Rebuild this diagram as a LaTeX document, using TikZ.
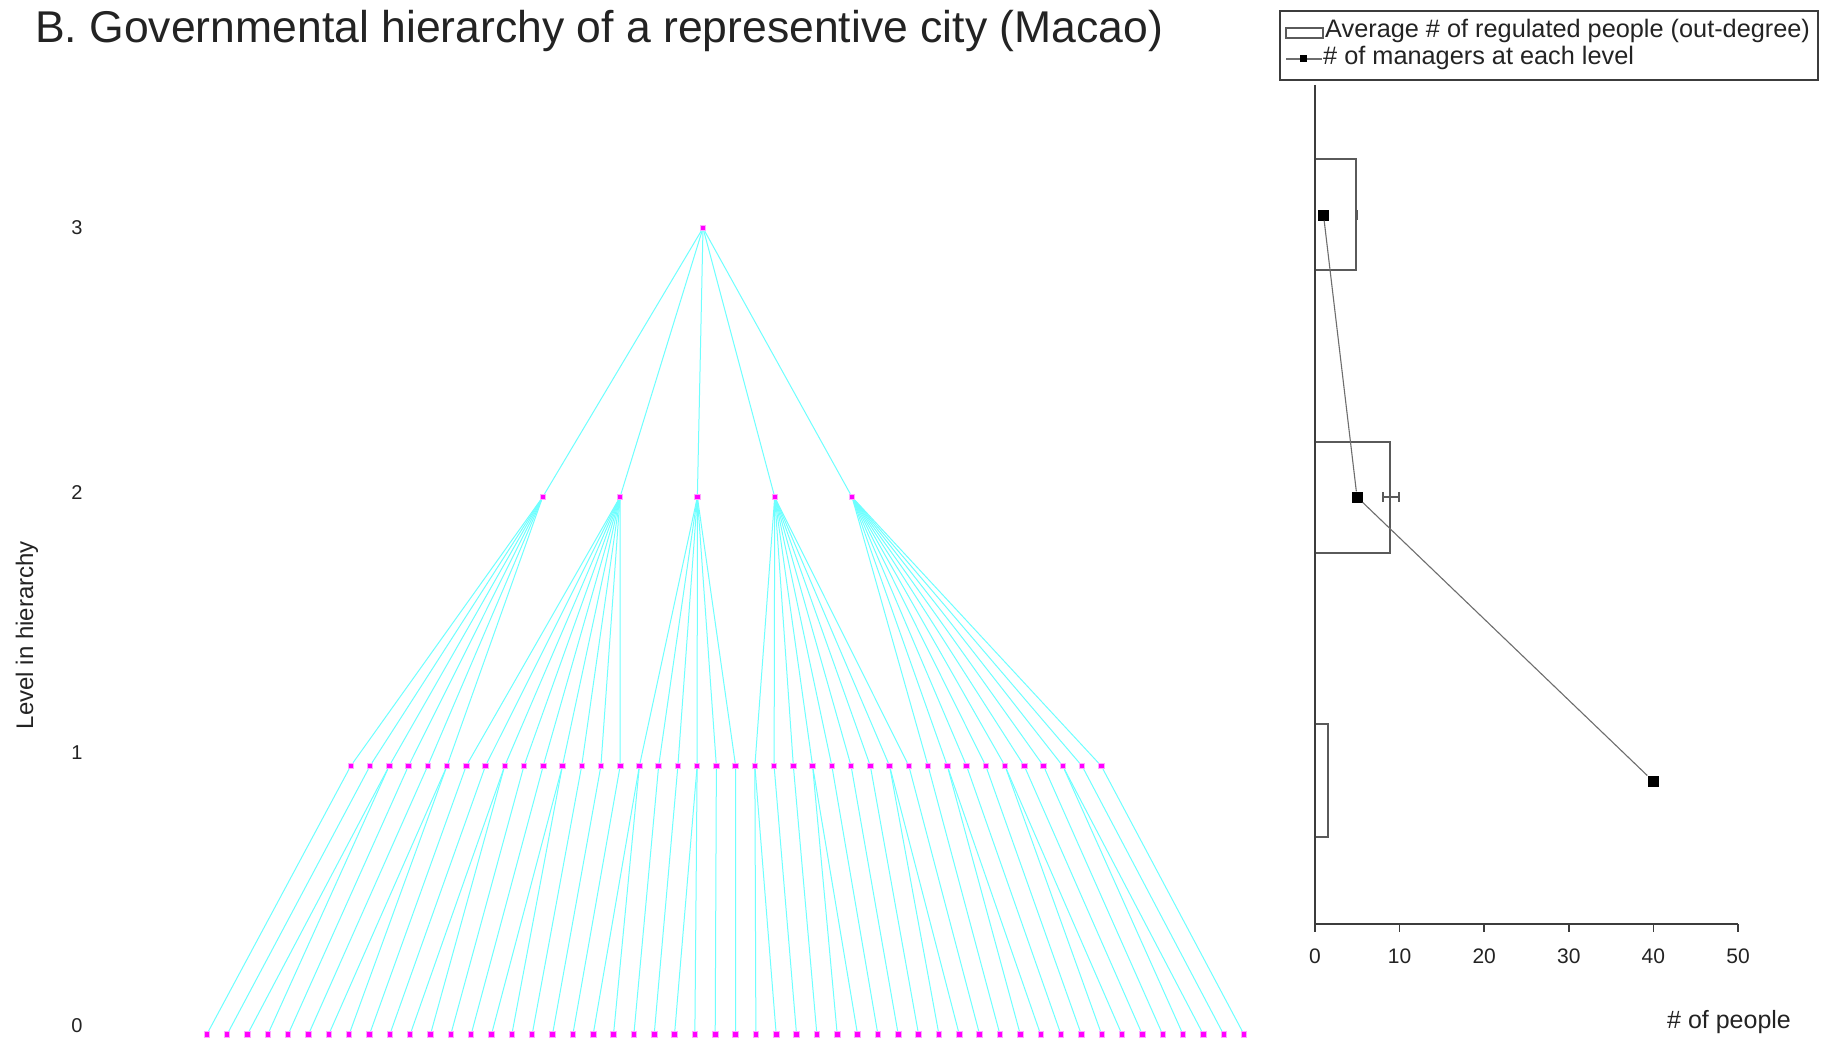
\documentclass[tikz,border=0pt]{standalone}
\usepackage{fontspec}
\setmainfont{Liberation Sans}
\usetikzlibrary{backgrounds}
\definecolor{edgec}{RGB}{110,255,255}
\definecolor{nodec}{RGB}{255,0,255}
\definecolor{axisc}{RGB}{60,60,60}
\definecolor{barc}{RGB}{90,90,90}
\definecolor{linec}{RGB}{110,110,110}
\definecolor{txtc}{RGB}{35,35,35}
\tikzset{
  mnode/.style={rectangle,fill=nodec,draw=nodec!35,line width=0.8pt,minimum size=5.5pt,inner sep=0pt},
  edgeline/.style={draw=edgec,line width=1pt},
  ptsq/.style={rectangle,fill=black,draw=none,minimum size=11pt,inner sep=0pt},
  barbox/.style={draw=barc,line width=1.4pt,fill=white},
  axisline/.style={draw=axisc,line width=1.5pt},
  conn/.style={draw=linec,line width=1.1pt},
  lvl/.style={inner sep=0pt,text=txtc,font=\fontsize{20}{24}\selectfont},
  ticklab/.style={inner sep=0pt,text=txtc,font=\fontsize{21}{25}\selectfont},
  legtxt/.style={inner sep=0pt,anchor=base west,text=txtc,font=\fontsize{25.3}{29}\selectfont},
}
\begin{document}
\begin{tikzpicture}[x=1pt,y=-1pt]
\useasboundingbox (0,0) rectangle (1828,1038);

% ---------- tree nodes ----------
\node[mnode] (t) at (703,228) {};
\foreach \k in {0,...,4} {
  \pgfmathsetmacro\xx{542.7+77.33*\k}
  \node[mnode] (m\k) at (\xx,497) {};
}
\foreach \i in {0,...,39} {
  \pgfmathsetmacro\xx{350.7+19.246*\i}
  \node[mnode] (a\i) at (\xx,766) {};
}
\foreach \j in {0,...,51} {
  \pgfmathsetmacro\xx{206.7+20.34*\j}
  \node[mnode] (b\j) at (\xx,1034.5) {};
}

% ---------- tree edges (behind nodes) ----------
\begin{pgfonlayer}{background}
\fill[white] (0,0) rectangle (1828,1038);
\foreach \k in {0,...,4} \draw[edgeline] (t) -- (m\k);
\foreach \i in {0,...,5}   \draw[edgeline] (m0) -- (a\i);
\foreach \i in {6,...,14}  \draw[edgeline] (m1) -- (a\i);
\foreach \i in {15,...,20} \draw[edgeline] (m2) -- (a\i);
\foreach \i in {21,...,29} \draw[edgeline] (m3) -- (a\i);
\foreach \i in {30,...,39} \draw[edgeline] (m4) -- (a\i);
\foreach \j in {0,...,51} {
  \pgfmathtruncatemacro\pp{round(\j*39/51)}
  \draw[edgeline] (a\pp) -- (b\j);
}
\end{pgfonlayer}

% ---------- title and left labels ----------
\node[anchor=base west,inner sep=0pt,text=txtc,font=\fontsize{44.5}{50}\selectfont] (title) at (35,43)
  {B. Governmental hierarchy of a representive city (Macao)};
\node[lvl] (l3) at (77,228) {3};
\node[lvl] (l2) at (77,493) {2};
\node[lvl] (l1) at (77,753) {1};
\node[lvl] (l0) at (77,1026) {0};
\node[inner sep=0pt,rotate=90,text=txtc,font=\fontsize{24}{28}\selectfont] (ylab) at (27,635) {Level in hierarchy};

% ---------- right chart ----------
\draw[barbox] (1315,159) rectangle (1356,270);
\draw[barbox] (1315,442) rectangle (1390,553);
\draw[barbox] (1315,724) rectangle (1328,837);
\draw[axisline] (1315,85) -- (1315,924) -- (1738,924);
\foreach \k in {0,...,5} {
  \pgfmathsetmacro\xx{1315+84.6*\k}
  \pgfmathtruncatemacro\lab{10*\k}
  \draw[axisline] (\xx,924) -- (\xx,932);
  \node[ticklab] (tk\k) at (\xx,956) {\lab};
}
\node[anchor=base west,inner sep=0pt,text=txtc,font=\fontsize{25}{30}\selectfont] (xlab) at (1667,1028) {\# of people};

% error bars
\draw[draw=barc,line width=1.3pt] (1357,210) -- (1357,220);
\draw[draw=barc,line width=1.2pt] (1383,497) -- (1399,497);
\draw[draw=barc,line width=1.2pt] (1383,492) -- (1383,502);
\draw[draw=barc,line width=1.2pt] (1399,492) -- (1399,502);

% points and connecting line
\node[ptsq] (p3) at (1323.5,215) {};
\node[ptsq] (p2) at (1357,497) {};
\node[ptsq] (p1) at (1653,781) {};
\draw[conn] (p3) -- (p2);
\draw[conn] (p2) -- (p1);

% ---------- legend ----------
\draw[draw=axisc,line width=1.5pt] (1280,11) rectangle (1818,80);
\draw[draw=barc,line width=1.2pt] (1286,28) rectangle (1323,38);
\node[legtxt] (lg1) at (1325,38) {Average \# of regulated people (out-degree)};
\coordinate (ls) at (1286,59);
\coordinate (le) at (1322,59);
\draw[conn] (ls) -- (le);
\node[rectangle,fill=black,minimum size=7pt,inner sep=0pt] (lsq) at (1303,59) {};
\node[legtxt] (lg2) at (1323,65) {\# of managers at each level};
\end{tikzpicture}
\end{document}
